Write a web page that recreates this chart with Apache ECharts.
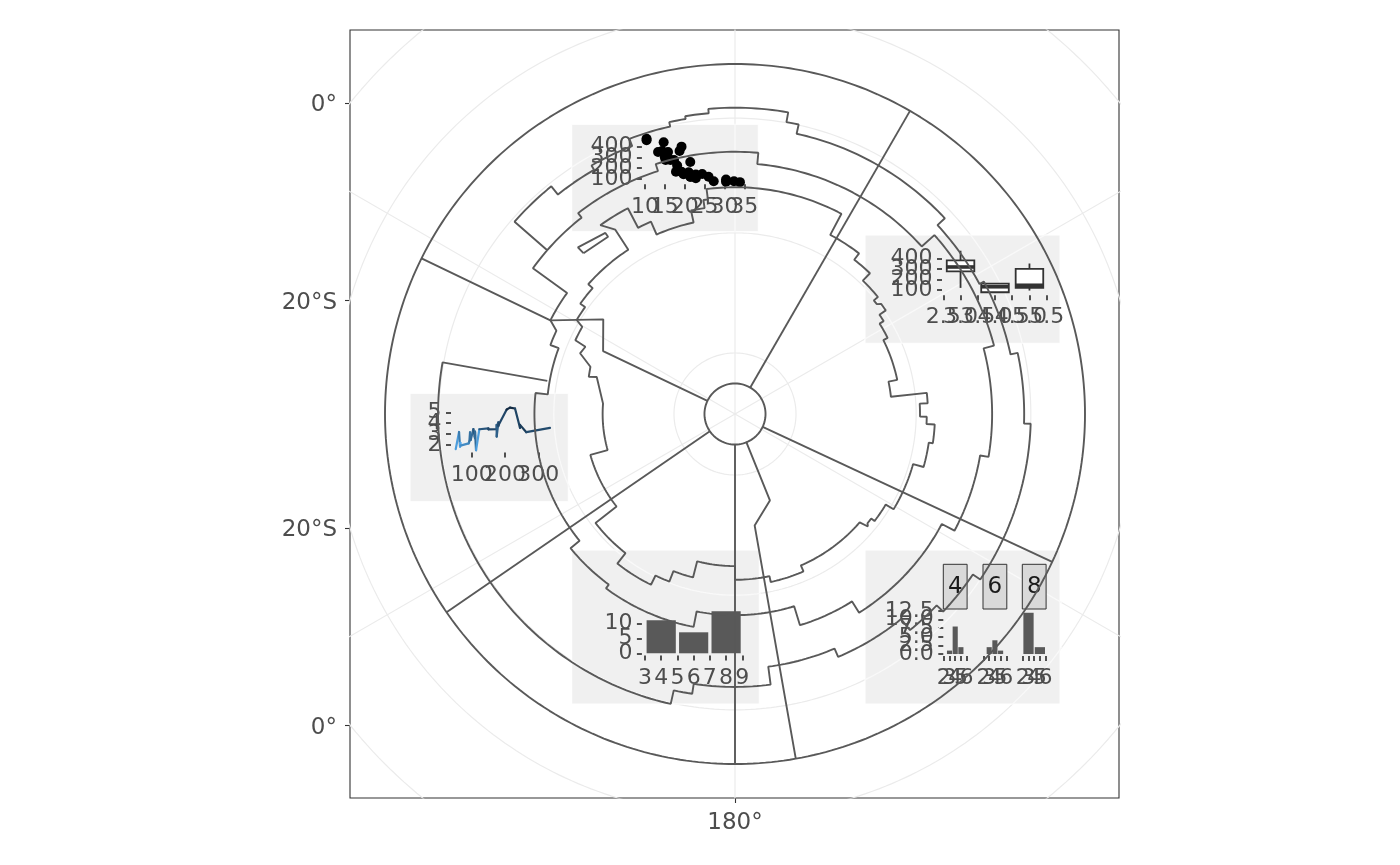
<!DOCTYPE html>
<html>
<head>
<meta charset="utf-8">
<script src="https://cdn.jsdelivr.net/npm/echarts@6/dist/echarts.min.js"></script>
<style>
html,body{margin:0;padding:0;background:#ffffff;}
#chart{width:1400px;height:865px;}
</style>
</head>
<body>
<div id="chart"></div>
<script>
// ================= DATA =================
// mtcars columns (dataset row order)
const mpg  = [21.0,21.0,22.8,21.4,18.7,18.1,14.3,24.4,22.8,19.2,17.8,16.4,17.3,15.2,10.4,10.4,14.7,32.4,30.4,33.9,21.5,15.5,15.2,13.3,19.2,27.3,26.0,30.4,15.8,19.7,15.0,21.4];
const cyl  = [6,6,4,6,8,6,8,4,4,6,6,8,8,8,8,8,8,4,4,4,4,8,8,8,8,4,4,4,8,6,8,4];
const disp = [160,160,108,258,360,225,360,146.7,140.8,167.6,167.6,275.8,275.8,275.8,472,460,440,78.7,75.7,71.1,120.1,318,304,350,400,79,120.3,95.1,351,145,301,121];
const hp   = [110,110,93,110,175,105,245,62,95,123,123,180,180,180,205,215,230,66,52,65,97,150,150,245,175,66,91,113,264,175,335,109];
const wt   = [2.620,2.875,2.320,3.215,3.440,3.460,3.570,3.190,3.150,3.440,3.440,4.070,3.730,3.780,5.250,5.424,5.345,2.200,1.615,1.835,2.465,3.520,3.435,3.840,3.845,1.935,2.140,1.513,3.170,2.770,3.570,2.780];
const gear = [4,4,4,3,3,3,3,4,4,4,4,3,3,3,3,3,3,4,4,4,3,3,3,3,3,4,5,5,5,5,5,4];

// map graticule (degrees)
const graticuleLats = [-80,-60,-40,-20,0];
const graticuleLons = [0,60,120,180,240,300];
const leftAxisLats  = [0,-20];
const bottomAxisLons = [180];

// map outlines, [lon, lat] vertices
const ringEdge = [[-180,-30],[180,-30]];
const ringPole = [[-180,-85],[180,-85]];
const sectorA = [[30,-85],[30,-30]];
const sectorB = [[115,-85],[115,-30]];
const sectorC = [[158,-85],[158,-74.7],[170,-71.4],[170,-30]];
const sectorD = [[180,-85],[180,-30]];
const sectorE = [[-124.5,-85],[-124.5,-30]];
const sectorF = [[-64.5,-85],[-64.5,-65.9],[-54.3,-63.2],[-63.1,-55.6],[-63.6,-30]];
const contourOuter = [[-63.1,-55.6],[-54.2,-55.6],[-54.2,-48.3],[-48.9,-48.3],[-48.9,-40.6],[-38.9,-40.6],[-38.9,-42.5],[-30,-42.5],[-30,-41.6],[-21,-41.6],[-21,-40.2],[-12.7,-40.2],[-12.7,-39.4],[-9.5,-39.4],[-9.5,-38.9],[-5,-38.9],[-5,-38.1],[10,-38.1],[10,-39.9],[12.4,-39.9],[12.4,-41.6],[47,-41.6],[47,-43.4],[62,-43.4],[62,-42.5],[77.8,-42.5],[77.8,-41.2],[91.9,-41.2],[91.9,-40.0],[124,-40.0],[124,-41.6],[133.5,-41.6],[133.5,-43.2],[141,-43.2],[141,-45.7],[157,-45.7],[157,-47.3],[172.5,-47.3],[172.5,-44.1],[188.7,-44.1],[188.7,-42.3],[192.5,-42.3],[192.5,-39.8],[280,-39.8],[280,-58.4]];
const contourMiddle = [[-48.9,-48.3],[-38,-48.3],[-38,-47.3],[-17.6,-47.3],[-17.6,-46.0],[5.1,-46.0],[5.1,-48.0],[48.1,-48.0],[48.1,-45.0],[75.2,-45.0],[75.2,-46.9],[99.6,-46.9],[99.6,-48.4],[118,-48.4],[118,-50.9],[148,-50.9],[148,-53.2],[162.9,-53.2],[162.9,-56.6],[191,-56.6],[191,-53.9],[216.5,-53.9],[216.5,-54.7],[230.8,-54.7],[230.8,-56.7],[276,-56.7],[276,-58.8],[290.5,-58.8],[290.5,-57.3],[295,-57.3],[296.9,-55.6]];
const contourInner = [[0,-52.2],[28,-52.2],[28,-56.3],[37.7,-56.3],[37.7,-57.65],[43.8,-57.65],[43.8,-59.4],[50.7,-59.4],[50.7,-60.3],[53,-60.3],[53,-59.7],[55.5,-59.7],[55.5,-61.0],[58,-61.0],[58,-61.8],[63.5,-61.8],[63.5,-62.6],[78.1,-62.6],[78.1,-64.1],[83.7,-64.1],[83.7,-58.0],[86.8,-58.0],[86.8,-59.35],[90.8,-59.35],[90.8,-58.2],[93,-58.2],[93,-56.8],[98.4,-56.8],[98.4,-57.5],[105.7,-57.5],[105.7,-59.35],[121,-59.35],[121,-60.9],[127.5,-60.9],[127.5,-61.6],[129.5,-61.6],[129.5,-61.2],[131,-61.2],[131,-62.7],[156.5,-62.7],[156.5,-61.6],[168,-61.6],[168,-62.6],[180,-62.6],[180,-64.9],[194.4,-64.9],[194.4,-62.1],[201.4,-62.1],[201.4,-60.2],[206.2,-60.2],[206.2,-58.45],[218.2,-58.45],[218.2,-60.7],[232,-60.7],[232,-65.2],[254.2,-65.2],[254.2,-68.2],[274.5,-68.2],[285,-66.4],[284.3,-65.1],[288.1,-64.9],[291.4,-62.5],[294.2,-62.9],[294.8,-60.9],[299.7,-60.9],[300.7,-59.5],[305.5,-59.5],[305.5,-58.5],[311.5,-58.5],[311.5,-57.5],[327,-57.5],[327,-53.4],[324.5,-51.3],[332.5,-51.3],[332.5,-55.1],[336.4,-55.1],[336.4,-57.5],[347.8,-57.5],[347.8,-55.4],[351.6,-55.4],[351.6,-54.0],[352.8,-54.0],[352.8,-52.2],[360,-52.2]];
const islandShape = [[-43.3,-53.2],[-35.6,-53.7],[-35.6,-52.9],[-43.3,-51.8],[-43.3,-53.2]];

// inset tick values
const scatterXTicks = [10,15,20,25,30,35];
const scatterYTicks = [100,200,300,400];
const boxXTicks = [2.5,3.0,3.5,4.0,4.5,5.0,5.5];
const boxYTicks = [100,200,300,400];
const lineXTicks = [100,200,300];
const lineYTicks = [2,3,4,5];
const barXTicks = [3,4,5,6,7,8,9];
const barYTicks = [0,5,10];
const facetXTicks = [2,3,4,5,6];
const facetYTicks = [0,2.5,5,7.5,10,12.5];
const cylLevels = [4,6,8];
const gearLevels = [3,4,5];

// ================= HELPERS =================
const FONT = 'DejaVu Sans';
const TXT = '#4D4D4D', TICK = '#333333';
const MAP_X = [-1.1, 384/350], MAP_Y = [-384/350, 384/350];
const MAIN = { left: 350, top: 30, width: 769, height: 768 };

function proj(lon, lat) {
  const c = (90 + lat) * Math.PI / 180, l = lon * Math.PI / 180;
  const rho = 2 * Math.sin(c / 2);
  return [rho * Math.sin(l), rho * Math.cos(l)];
}
function pathOf(verts) {
  const out = [];
  for (let i = 0; i < verts.length; i++) {
    const [lo, la] = verts[i];
    if (i > 0) {
      const [plo, pla] = verts[i - 1];
      if (Math.abs(pla - la) < 1e-9) {
        const n = Math.max(1, Math.ceil(Math.abs(lo - plo)));
        for (let k = 1; k < n; k++) out.push(proj(plo + (lo - plo) * k / n, la));
      }
    }
    out.push(proj(lo, la));
  }
  return out;
}
function lineSeries(pts, color, width, z, xi, yi) {
  return { type: 'line', xAxisIndex: xi || 0, yAxisIndex: yi || 0, data: pts, symbol: 'none', showSymbol: false,
    lineStyle: { color: color, width: width }, silent: true, animation: false, clip: true, z: z };
}
function quantile7(sorted, p) {
  const h = (sorted.length - 1) * p, lo = Math.floor(h);
  return lo + 1 < sorted.length ? sorted[lo] + (h - lo) * (sorted[lo + 1] - sorted[lo]) : sorted[lo];
}
function resolutionOf(vals) {
  const u = Array.from(new Set(vals)).sort((a, b) => a - b);
  let r = Infinity; for (let i = 1; i < u.length; i++) r = Math.min(r, u[i] - u[i - 1]);
  return isFinite(r) ? r : 1;
}
function hexToRgb(h){return [1,3,5].map(i=>parseInt(h.substr(i,2),16));}
function mixColor(a,b,t){const A=hexToRgb(a),B=hexToRgb(b);return 'rgb('+A.map((v,i)=>Math.round(v+(B[i]-v)*t)).join(',')+')';}
function textSeries(xi, data, fmt, dx, dy, align, size) {
  return { type: 'custom', xAxisIndex: xi, yAxisIndex: xi, z: 4, silent: true, animation: false, clip: false, data: data,
    renderItem: function (params, api) {
      const p = api.coord([api.value(0), api.value(1)]);
      return { type: 'text', x: p[0] + dx, y: p[1] + dy, style: { text: fmt(params.dataIndex), fill: TXT, font: size + 'px "DejaVu Sans"', align: align, verticalAlign: 'middle', textAlign: align, textVerticalAlign: 'middle' } };
    } };
}

const graticulePaths = [];
graticuleLats.forEach(lat => graticulePaths.push(pathOf([[-180, lat], [180, lat]])));
graticuleLons.forEach(lon => graticulePaths.push([proj(lon, -90), proj(lon, 20)]));

// ================= MAP SERIES =================
const series = [];
graticulePaths.forEach(p => series.push(lineSeries(p, '#EBEBEB', 1.2, 1)));
[ringEdge, ringPole, sectorA, sectorB, sectorC, sectorD, sectorE, sectorF, contourOuter, contourMiddle, contourInner, islandShape]
  .forEach(v => series.push(lineSeries(pathOf(v), '#595959', 1.9, 10)));

// main axes tick positions (where graticules meet the panel frame)
const yTickVals = [], yTickText = [];
leftAxisLats.forEach(lat => {
  const rho = 2 * Math.sin((90 + lat) * Math.PI / 360);
  if (rho > Math.abs(MAP_X[0])) {
    const y = Math.sqrt(rho * rho - MAP_X[0] * MAP_X[0]);
    const t = lat === 0 ? '0°' : (Math.abs(lat) + '°' + (lat < 0 ? 'S' : 'N'));
    yTickVals.push(y, -y); yTickText.push(t, t);
  }
});
const xTickVals = [], xTickText = [];
bottomAxisLons.forEach(lon => {
  const l = lon * Math.PI / 180;
  const t = MAP_Y[0] / Math.cos(l);
  xTickVals.push(t * Math.sin(l)); xTickText.push(lon + '°');
});
series.push(textSeries(0, yTickVals.map(v => [MAP_X[0], v]), i => yTickText[i], -13, 2.5, 'right', 23));
series.push(textSeries(0, xTickVals.map(v => [v, MAP_Y[0]]), i => xTickText[i], 0, 25, 'center', 23));

// ================= INSET DATA PREP =================
const boxStats = gearLevels.map(g => {
  const v = disp.filter((d, i) => gear[i] === g).sort((a, b) => a - b);
  const q1 = quantile7(v, 0.25), med = quantile7(v, 0.5), q3 = quantile7(v, 0.75), iqr = q3 - q1;
  const lo = Math.min(...v.filter(x => x >= q1 - 1.5 * iqr)), hi = Math.max(...v.filter(x => x <= q3 + 1.5 * iqr));
  return [g, lo, q1, med, q3, hi];
});
const order = hp.map((_, i) => i).sort((a, b) => hp[a] - hp[b]);
const mpgMin = Math.min(...mpg), mpgMax = Math.max(...mpg);
const lineSegs = [];
for (let k = 0; k < order.length - 1; k++) {
  const i = order[k], j = order[k + 1];
  lineSegs.push([hp[i], wt[i], hp[j], wt[j], mpg[i]]);
}
const cylWidth = 0.9 * resolutionOf(cyl);
const cylCounts = cylLevels.map(c => [c, cyl.filter(x => x === c).length, cylWidth]);
const facetCounts = cylLevels.map(c => {
  const rows = gearLevels.map(g => [g, cyl.filter((x, i) => x === c && gear[i] === g).length]).filter(d => d[1] > 0);
  const w = 0.9 * resolutionOf(rows.map(r => r[0]));
  return rows.map(r => [r[0], r[1], w]);
});
const facetAll = [].concat(...facetCounts);
const fLo = Math.min(...facetAll.map(d => d[0] - d[2] / 2)), fHi = Math.max(...facetAll.map(d => d[0] + d[2] / 2));
const FX = [fLo - 0.05 * (fHi - fLo), fHi + 0.05 * (fHi - fLo)];

// ================= LAYOUT =================
const insetBoxes = [
  [571.7, 124.3, 186.6, 107.4],
  [865, 235, 195, 108.3],
  [410, 393.3, 158.3, 108.4],
  [571.7, 550, 187.6, 154],
  [865, 550, 195, 154]
];
const grids = [
  { left: MAIN.left, top: MAIN.top, width: MAIN.width, height: MAIN.height, show: true, borderColor: '#333333', borderWidth: 1.1, backgroundColor: 'transparent', z: 0 },
  { left: 641.9, top: 136.7, width: 102.7, height: 47.6 },
  { left: 942, top: 248.6, width: 106, height: 46.6 },
  { left: 451, top: 405.5, width: 103.7, height: 46.9 },
  { left: 641.9, top: 609.2, width: 103.5, height: 46.2 },
  { left: 943.3, top: 610.7, width: 23.8, height: 45.4 },
  { left: 983, top: 610.7, width: 23.8, height: 45.4 },
  { left: 1022.3, top: 610.7, width: 23.8, height: 45.4 }
];
const xAxes = [
  { type: 'value', gridIndex: 0, min: MAP_X[0], max: MAP_X[1], axisLine: { show: false, onZero: false }, splitLine: { show: false },
    axisTick: { show: true, customValues: xTickVals, length: 5, lineStyle: { color: TICK, width: 1.1 } }, axisLabel: { show: false } }
];
const yAxes = [
  { type: 'value', gridIndex: 0, min: MAP_Y[0], max: MAP_Y[1], axisLine: { show: false, onZero: false }, splitLine: { show: false },
    axisTick: { show: true, customValues: yTickVals, length: 5, lineStyle: { color: TICK, width: 1.1 } }, axisLabel: { show: false } }
];
function insetAxis(grid, min, max, ticks) {
  return { type: 'value', gridIndex: grid, min: min, max: max, z: 3,
    axisLine: { show: false, onZero: false }, splitLine: { show: false },
    axisTick: { show: ticks.length > 0, customValues: ticks, length: 5, lineStyle: { color: TICK, width: 1.7 } },
    axisLabel: { show: false } };
}
// inset axes: [grid, xmin, xmax, xticks, ymin, ymax, yticks, xfmt, yfmt]
const insetAxes = [
  [1, 9.225, 35.075, scatterXTicks, 51.05, 492.05, scatterYTicks, String, String],
  [2, 2.462, 5.538, boxXTicks, 51.05, 492.05, boxYTicks, v => v.toFixed(1), String],
  [3, 37.85, 349.15, lineXTicks, 1.3174, 5.6196, lineYTicks, String, String],
  [4, 2.81, 9.19, barXTicks, -0.7, 14.7, barYTicks, String, String],
  [5, FX[0], FX[1], facetXTicks, -0.6, 12.6, facetYTicks, String, v => v.toFixed(1)],
  [6, FX[0], FX[1], facetXTicks, -0.6, 12.6, [], String, String],
  [7, FX[0], FX[1], facetXTicks, -0.6, 12.6, [], String, String]
];
insetAxes.forEach(a => {
  xAxes.push(insetAxis(a[0], a[1], a[2], a[3]));
  yAxes.push(insetAxis(a[0], a[4], a[5], a[6]));
  series.push(textSeries(a[0], a[3].map(t => [t, a[4]]), i => a[7](a[3][i]), 0, 22.5, 'center', 22));
  if (a[6].length) series.push(textSeries(a[0], a[6].map(t => [a[1], t]), i => a[8](a[6][i]), -9.5, 0, 'right', 22));
});

// scatter mpg vs disp
series.push({ type: 'scatter', xAxisIndex: 1, yAxisIndex: 1, data: mpg.map((m, i) => [m, disp[i]]),
  symbolSize: 10, itemStyle: { color: '#000000', opacity: 1 }, z: 4, silent: true, animation: false });
// boxplot disp by gear
series.push({ type: 'custom', xAxisIndex: 2, yAxisIndex: 2, data: boxStats, z: 4, silent: true, animation: false,
  renderItem: function (params, api) {
    const x = api.value(0);
    const lo = api.coord([x, api.value(1)]), q1 = api.coord([x, api.value(2)]), md = api.coord([x, api.value(3)]),
          q3 = api.coord([x, api.value(4)]), hi = api.coord([x, api.value(5)]);
    const hw = api.size([0.4, 0])[0];
    const st = { stroke: '#333333', lineWidth: 1.8, fill: null };
    return { type: 'group', children: [
      { type: 'line', shape: { x1: lo[0], y1: lo[1], x2: q1[0], y2: q1[1] }, style: st },
      { type: 'line', shape: { x1: q3[0], y1: q3[1], x2: hi[0], y2: hi[1] }, style: st },
      { type: 'rect', shape: { x: q1[0] - hw, y: q3[1], width: 2 * hw, height: q1[1] - q3[1] }, style: { stroke: '#333333', lineWidth: 1.8, fill: '#ffffff' } },
      { type: 'line', shape: { x1: md[0] - hw, y1: md[1], x2: md[0] + hw, y2: md[1] }, style: { stroke: '#333333', lineWidth: 3.6 } }
    ] };
  } });
// hp -> wt line coloured by mpg
series.push({ type: 'custom', xAxisIndex: 3, yAxisIndex: 3, data: lineSegs, z: 4, silent: true, animation: false,
  renderItem: function (params, api) {
    const a = api.coord([api.value(0), api.value(1)]), b = api.coord([api.value(2), api.value(3)]);
    const t = (api.value(4) - mpgMin) / (mpgMax - mpgMin);
    return { type: 'line', shape: { x1: a[0], y1: a[1], x2: b[0], y2: b[1] }, style: { stroke: mixColor('#132B43', '#56B1F7', t), lineWidth: 2.2, lineCap: 'round' } };
  } });
function barRender(params, api) {
  const half = api.value(2) / 2;
  const p0 = api.coord([api.value(0) - half, 0]), p1 = api.coord([api.value(0) + half, api.value(1)]);
  return { type: 'rect', shape: { x: p0[0], y: p1[1], width: p1[0] - p0[0], height: p0[1] - p1[1] }, style: { fill: '#595959' } };
}
series.push({ type: 'custom', xAxisIndex: 4, yAxisIndex: 4, data: cylCounts, z: 4, silent: true, animation: false, renderItem: barRender });
facetCounts.forEach((d, k) => series.push({ type: 'custom', xAxisIndex: 5 + k, yAxisIndex: 5 + k, data: d, z: 4, silent: true, animation: false, renderItem: barRender }));

// graticule seen through the inset backgrounds (lighter)
const pxPerUnit = MAIN.width / (MAP_X[1] - MAP_X[0]);
const cx = MAIN.left - MAP_X[0] * pxPerUnit, cy = MAIN.top + MAP_Y[1] * pxPerUnit;
insetBoxes.forEach((b, k) => {
  const gi = grids.length;
  grids.push({ left: b[0], top: b[1], width: b[2], height: b[3] });
  xAxes.push({ type: 'value', gridIndex: gi, show: false, min: (b[0] - cx) / pxPerUnit, max: (b[0] + b[2] - cx) / pxPerUnit });
  yAxes.push({ type: 'value', gridIndex: gi, show: false, min: (cy - b[1] - b[3]) / pxPerUnit, max: (cy - b[1]) / pxPerUnit });
  graticulePaths.forEach(p => series.push(lineSeries(p, '#F9F9F9', 1.3, 3, gi, gi)));
});

// inset backgrounds and facet strips
const graphics = insetBoxes.map(b => ({ type: 'rect', shape: { x: b[0], y: b[1], width: b[2], height: b[3] }, style: { fill: '#F0F0F0', stroke: '#FFFFFF', lineWidth: 1 }, z: 2, silent: true }));
const stripX = [943.3, 983, 1022.3];
cylLevels.forEach((c, k) => {
  graphics.push({ type: 'rect', shape: { x: stripX[k], y: 564.3, width: 23.8, height: 44.7 }, style: { fill: '#D9D9D9', stroke: '#333333', lineWidth: 1 }, z: 5, silent: true });
  graphics.push({ type: 'text', x: stripX[k] + 11.9, y: 587, style: { text: String(c), fill: '#1A1A1A', font: '23px "DejaVu Sans"', align: 'center', verticalAlign: 'middle', textAlign: 'center', textVerticalAlign: 'middle' }, z: 5, silent: true });
});

const chart = echarts.init(document.getElementById('chart'), null, { width: 1400, height: 865 });
chart.setOption({
  animation: false,
  backgroundColor: '#ffffff',
  textStyle: { fontFamily: FONT },
  grid: grids,
  xAxis: xAxes,
  yAxis: yAxes,
  series: series,
  graphic: { elements: graphics }
});
</script>
</body>
</html>
